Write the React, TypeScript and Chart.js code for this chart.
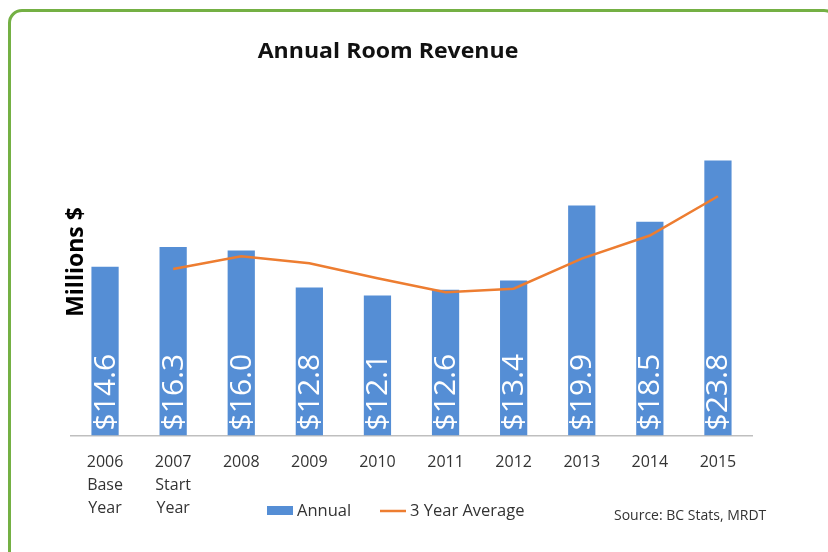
import React, { useEffect, useRef } from "react";
import { Chart, registerables } from "chart.js";

Chart.register(...registerables);

const categories: (string | string[])[] = [
  ["2006", "Base", "Year"],
  ["2007", "Start", "Year"],
  "2008",
  "2009",
  "2010",
  "2011",
  "2012",
  "2013",
  "2014",
  "2015",
];
const annual = [14.6, 16.3, 16.0, 12.8, 12.1, 12.6, 13.4, 19.9, 18.5, 23.8];
const threeYearAvg = [null, 14.4, 15.5, 14.9, 13.6, 12.4, 12.7, 15.3, 17.3, 20.7];
const seriesNames = ["Annual", "3 Year Average"];
const titleText = "Annual Room Revenue";
const yTitleText = "Millions $";
const sourceText = "Source: BC Stats, MRDT";
const yMin = 0;
const yMax = 26;

const BAR = "#558ED5";
const LINE = "#ED7D31";
const TEXT = "#333333";

const overlay = {
  id: "overlay",
  afterDatasetsDraw(chart: any) {
    const ctx = chart.ctx as CanvasRenderingContext2D;
    const meta = chart.getDatasetMeta(0);
    ctx.save();
    ctx.fillStyle = "#ffffff";
    ctx.font = "30px 'Open Sans'";
    ctx.textAlign = "left";
    ctx.textBaseline = "middle";
    meta.data.forEach((el: any, i: number) => {
      const p = el.getProps(["x", "base"], true);
      ctx.save();
      ctx.translate(p.x, p.base - 5);
      ctx.rotate(-Math.PI / 2);
      ctx.fillText("$" + annual[i].toFixed(1), 0, 1);
      ctx.restore();
    });
    ctx.restore();
  },
  afterDraw(chart: any) {
    const ctx = chart.ctx as CanvasRenderingContext2D;
    ctx.save();
    // title
    ctx.fillStyle = "#111111";
    ctx.font = "bold 21px 'Open Sans'";
    ctx.textAlign = "center";
    ctx.textBaseline = "middle";
    ctx.save();
    ctx.translate(388, 52);
    ctx.scale(1.1, 1);
    ctx.fillText(titleText, 0, 0);
    ctx.restore();
    // y title
    ctx.save();
    ctx.translate(76, 262);
    ctx.rotate(-Math.PI / 2);
    ctx.font = "bold 23px 'Open Sans'";
    ctx.fillStyle = "#000000";
    ctx.fillText(yTitleText, 0, 0);
    ctx.restore();
    // legend
    ctx.fillStyle = BAR;
    ctx.fillRect(267, 506, 26, 9);
    ctx.fillStyle = TEXT;
    ctx.font = "16.5px 'Open Sans'";
    ctx.textAlign = "left";
    ctx.fillText(seriesNames[0], 297, 511);
    ctx.strokeStyle = LINE;
    ctx.lineWidth = 2.5;
    ctx.beginPath();
    ctx.moveTo(380, 511);
    ctx.lineTo(406, 511);
    ctx.stroke();
    ctx.fillText(seriesNames[1], 410, 511);
    // source
    ctx.font = "14px 'Open Sans'";
    ctx.fillStyle = "#333333";
    ctx.fillText(sourceText, 614, 516);
    ctx.restore();
  },
};

export default function App() {
  const ref = useRef<HTMLCanvasElement | null>(null);
  useEffect(() => {
    if (!ref.current) return;
    const chart = new Chart(ref.current, {
      type: "bar",
      data: {
        labels: categories as any,
        datasets: [
          {
            type: "bar",
            label: seriesNames[0],
            data: annual,
            backgroundColor: BAR,
            barPercentage: 0.4,
            categoryPercentage: 1,
            order: 1,
          },
          {
            type: "line",
            label: seriesNames[1],
            data: threeYearAvg as any,
            borderColor: LINE,
            borderWidth: 2.5,
            pointRadius: 0,
            tension: 0,
            fill: false,
            order: 0,
          } as any,
        ],
      },
      options: {
        animation: false,
        responsive: false,
        devicePixelRatio: 1,
        layout: { padding: { left: 71, right: 76, top: 135, bottom: 17 } },
        plugins: {
          legend: { display: false },
          title: { display: false },
          tooltip: { enabled: false },
        },
        scales: {
          x: {
            grid: { display: false, drawTicks: false },
            border: { display: true, color: "#BFBFBF", width: 1.5 },
            ticks: {
              color: TEXT,
              padding: 15,
              maxRotation: 0,
              autoSkip: false,
              font: { family: "'Open Sans'", size: 16, lineHeight: 1.45 },
            },
          },
          y: { display: false, min: yMin, max: yMax },
        },
      },
      plugins: [overlay],
    });
    return () => chart.destroy();
  }, []);

  return (
    <div
      style={{
        position: "fixed",
        left: 0,
        top: 0,
        width: 828,
        height: 552,
        overflow: "hidden",
        background: "#ffffff",
      }}
    >
      <div
        style={{
          position: "absolute",
          left: 8,
          top: 9,
          width: 830,
          height: 570,
          boxSizing: "border-box",
          border: "3px solid #74B044",
          borderRadius: 14,
        }}
      />
      <canvas
        ref={ref}
        width={828}
        height={552}
        style={{ position: "absolute", left: 0, top: 0 }}
      />
    </div>
  );
}
